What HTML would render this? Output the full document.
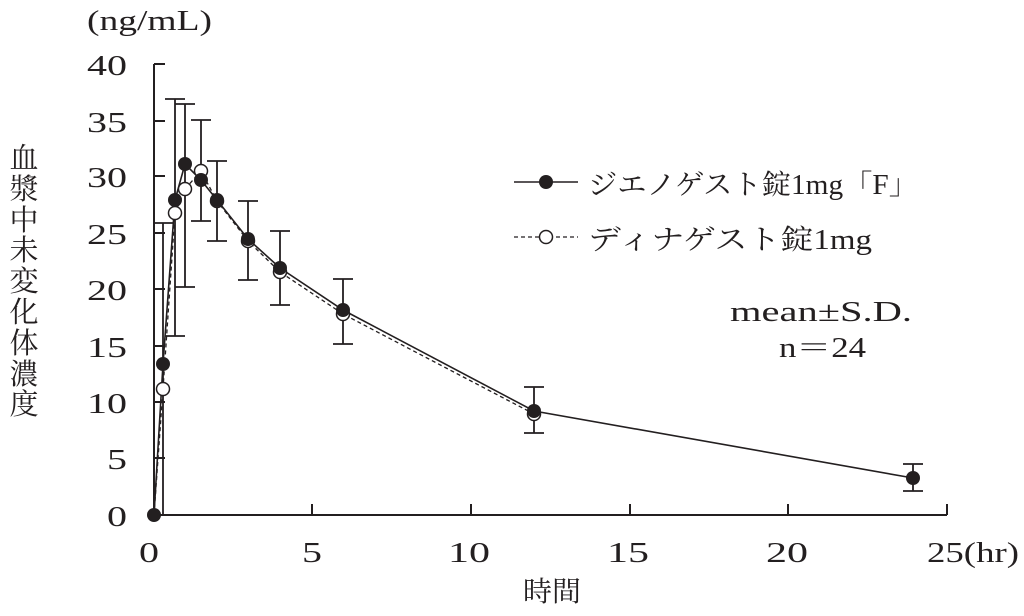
<!DOCTYPE html>
<html><head><meta charset="utf-8"><style>
html,body{margin:0;padding:0;background:#fff;}
svg text{font-family:"Liberation Serif","Noto Serif CJK SC","Noto Sans CJK JP",serif;fill:#231f20;}
</style></head><body>
<svg width="1024" height="611" viewBox="0 0 1024 611" xmlns="http://www.w3.org/2000/svg">
<g stroke="#231f20" stroke-width="2" fill="none">
<line x1="154" y1="64" x2="154" y2="515"/>
<line x1="154" y1="515" x2="947" y2="515"/>
<line x1="154" y1="64" x2="165" y2="64"/><line x1="154" y1="121" x2="165" y2="121"/><line x1="154" y1="176" x2="165" y2="176"/><line x1="154" y1="233" x2="165" y2="233"/><line x1="154" y1="289" x2="165" y2="289"/><line x1="154" y1="346" x2="165" y2="346"/><line x1="154" y1="402" x2="165" y2="402"/><line x1="154" y1="458" x2="165" y2="458"/>
<line x1="312" y1="515" x2="312" y2="504"/><line x1="471" y1="515" x2="471" y2="504"/><line x1="630" y1="515" x2="630" y2="504"/><line x1="788" y1="515" x2="788" y2="504"/><line x1="947" y1="515" x2="947" y2="504"/>
</g>
<g stroke="#231f20" stroke-width="1.8" fill="none">
<path d="M163 223V515M153 223H173"/>
<path d="M175 99V336M165 99H185M165 336H185"/>
<path d="M185 104V287M175 104H195M175 287H195"/>
<path d="M201 120V221M191 120H211M191 221H211"/>
<path d="M217 161V241M207 161H227M207 241H227"/>
<path d="M248 201V280M238 201H258M238 280H258"/>
<path d="M280 231V305M270 231H290M270 305H290"/>
<path d="M343 279V344M333 279H353M333 344H353"/>
<path d="M534 387V433M524 387H544M524 433H544"/>
<path d="M913 464V491M903 464H923M903 491H923"/>
</g>
<polyline fill="none" stroke="#231f20" stroke-width="1.3" stroke-dasharray="4,3" points="154,515 163,389 175,213 185,189 201,171 217,201 248,241 280,272 343,314 534,414"/>
<polyline fill="none" stroke="#231f20" stroke-width="1.6" points="154,515 163,364 175,200 185,164 201,180 217,200 248,239 280,268 343,310 534,411 913,478"/>
<g fill="#fff" stroke="#231f20" stroke-width="1.5">
<circle cx="163" cy="389" r="6.5"/><circle cx="175" cy="213" r="6.5"/><circle cx="185" cy="189" r="6.5"/><circle cx="201" cy="171" r="6.5"/><circle cx="217" cy="201" r="6.5"/><circle cx="248" cy="241" r="6.5"/><circle cx="280" cy="272" r="6.5"/><circle cx="343" cy="314" r="6.5"/><circle cx="534" cy="414" r="6.5"/>
</g>
<g fill="#231f20">
<circle cx="154" cy="515" r="7"/><circle cx="163" cy="364" r="7"/><circle cx="175" cy="200" r="7"/><circle cx="185" cy="164" r="7"/><circle cx="201" cy="180" r="7"/><circle cx="217" cy="200" r="7"/><circle cx="248" cy="239" r="7"/><circle cx="280" cy="268" r="7"/><circle cx="343" cy="310" r="7"/><circle cx="534" cy="411" r="7"/><circle cx="913" cy="478" r="7"/>
</g>
<g font-size="28">
<text x="87" y="75" textLength="40" lengthAdjust="spacingAndGlyphs">40</text><text x="87" y="132" textLength="40" lengthAdjust="spacingAndGlyphs">35</text><text x="87" y="187" textLength="40" lengthAdjust="spacingAndGlyphs">30</text><text x="87" y="244" textLength="40" lengthAdjust="spacingAndGlyphs">25</text><text x="87" y="300" textLength="40" lengthAdjust="spacingAndGlyphs">20</text><text x="87" y="357" textLength="40" lengthAdjust="spacingAndGlyphs">15</text><text x="87" y="413" textLength="40" lengthAdjust="spacingAndGlyphs">10</text><text x="107" y="469" textLength="20" lengthAdjust="spacingAndGlyphs">5</text><text x="107" y="526" textLength="20" lengthAdjust="spacingAndGlyphs">0</text>
<text x="139" y="562" textLength="20" lengthAdjust="spacingAndGlyphs">0</text><text x="302" y="562" textLength="20" lengthAdjust="spacingAndGlyphs">5</text><text x="448" y="562" textLength="42" lengthAdjust="spacingAndGlyphs">10</text><text x="607" y="562" textLength="42" lengthAdjust="spacingAndGlyphs">15</text><text x="766" y="562" textLength="42" lengthAdjust="spacingAndGlyphs">20</text>
<text x="927" y="562" textLength="92" lengthAdjust="spacingAndGlyphs">25(hr)</text>
<text x="523" y="601" textLength="58" lengthAdjust="spacingAndGlyphs">時間</text>
<text x="87" y="30" textLength="125" lengthAdjust="spacingAndGlyphs">(ng/mL)</text>
</g>
<g font-size="29" text-anchor="middle" style="font-family:'Noto Sans CJK JP','Noto Sans CJK SC',sans-serif">
<text x="24" y="168">血</text><text x="24" y="199">漿</text><text x="24" y="230">中</text><text x="24" y="260">未</text><text x="24" y="291">変</text><text x="24" y="322">化</text><text x="24" y="353">体</text><text x="24" y="384">濃</text><text x="24" y="414">度</text>
</g>
<line x1="514" y1="182" x2="578" y2="182" stroke="#231f20" stroke-width="1.6"/>
<circle cx="546" cy="182" r="7" fill="#231f20"/>
<line x1="514" y1="237" x2="578" y2="237" stroke="#231f20" stroke-width="1.3" stroke-dasharray="4,3"/>
<circle cx="546" cy="237" r="6.5" fill="#fff" stroke="#231f20" stroke-width="1.5"/>
<text x="588" y="194" font-size="28" textLength="330" lengthAdjust="spacingAndGlyphs">ジエノゲスト錠1mg「F」</text>
<text x="588" y="249" font-size="28" textLength="284" lengthAdjust="spacingAndGlyphs">ディナゲスト錠1mg</text>
<text x="730" y="321" font-size="28" textLength="182" lengthAdjust="spacingAndGlyphs">mean±S.D.</text>
<text x="779" y="357" font-size="28" textLength="87" lengthAdjust="spacingAndGlyphs">n＝24</text>
</svg>
</body></html>
